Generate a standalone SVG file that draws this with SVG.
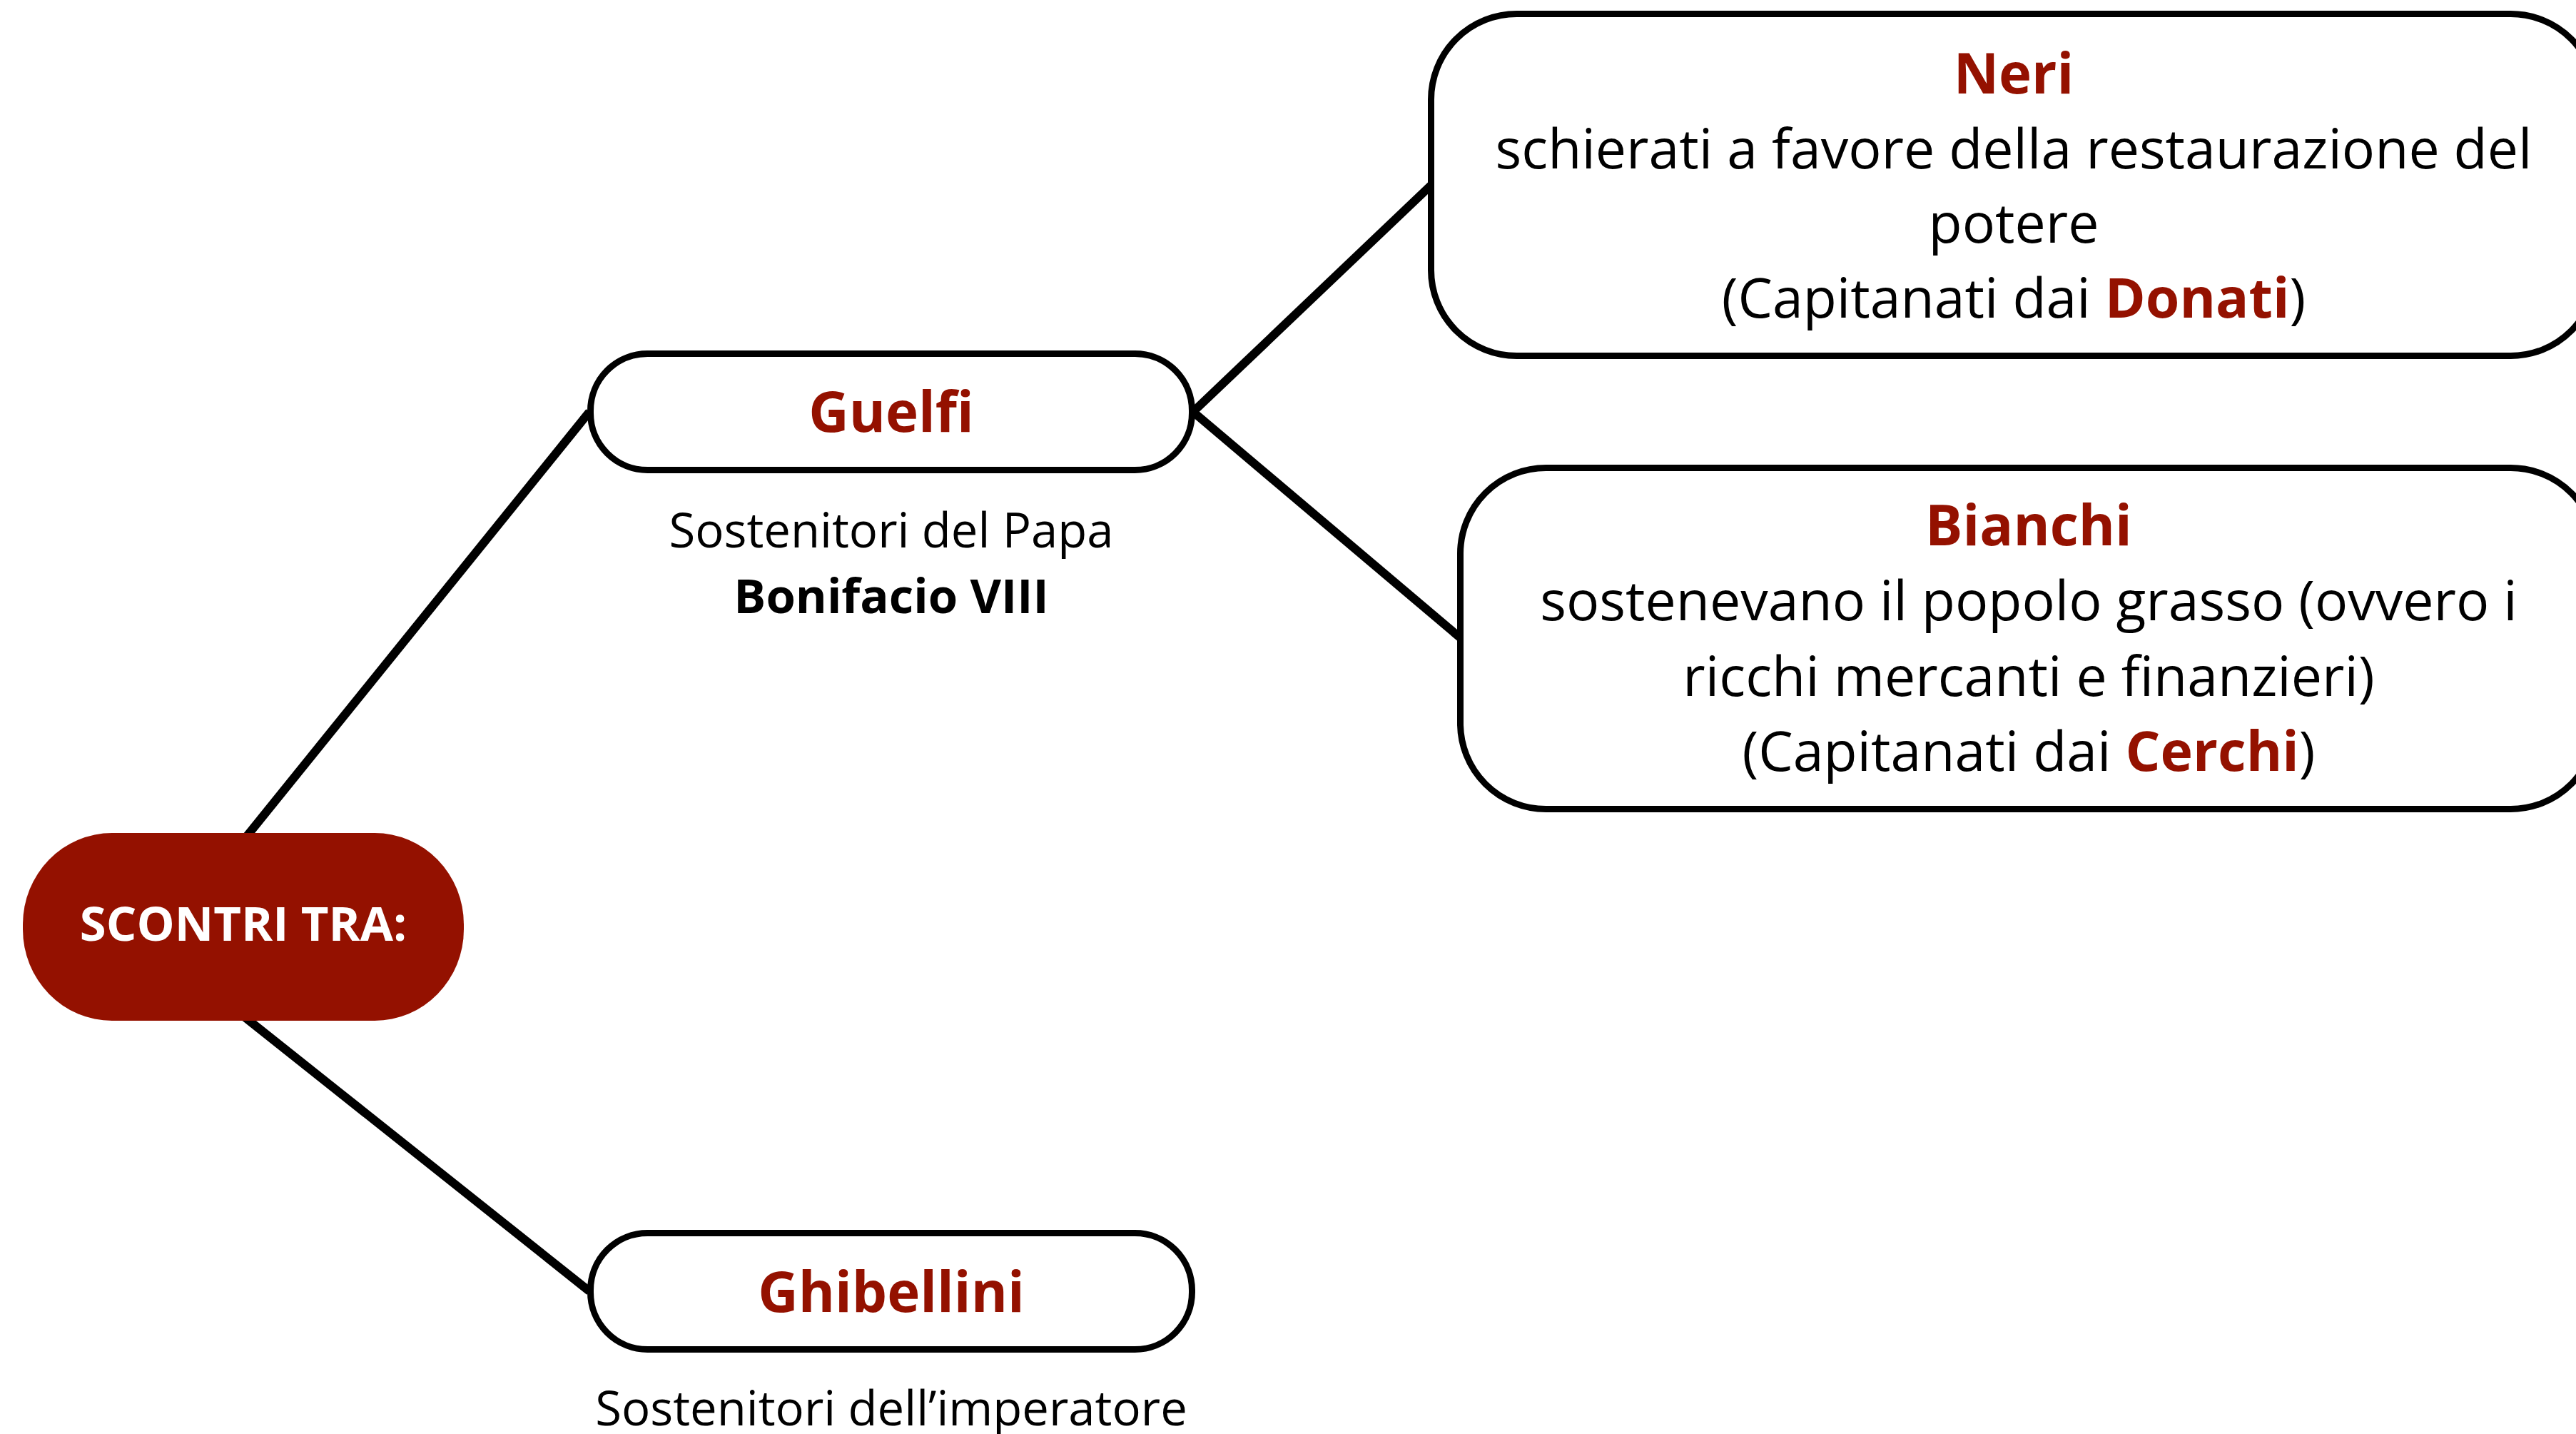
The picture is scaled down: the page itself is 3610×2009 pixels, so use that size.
<svg xmlns="http://www.w3.org/2000/svg" width="3610" height="2009" viewBox="0 0 3610 2009">
<style>
text{font-family:"Open Sans","Liberation Sans",sans-serif;text-anchor:middle;fill:#000}
.box{fill:#fff;stroke:#000;stroke-width:9}
.red{fill:#941100}
.b{font-weight:700}
.t{font-size:78px;font-weight:700;fill:#941100}
.body{font-size:77px}
.sub{font-size:67px}
.conn line{stroke:#000;stroke-width:12}
</style>
<rect width="3610" height="2009" fill="#fff"/>
<g id="connectors" class="conn">
<line x1="343" y1="1175" x2="826" y2="577"/>
<line x1="343" y1="1425" x2="826" y2="1809"/>
<line x1="1672" y1="577" x2="2006" y2="259"/>
<line x1="1672" y1="577" x2="2047" y2="894"/>
</g>
<g id="scontri">
<rect x="32" y="1167" width="618" height="263" rx="125" ry="128" fill="#941100"/>
<text x="341" y="1318" class="b" style="font-size:67px;fill:#fff">SCONTRI TRA:</text>
</g>
<g id="guelfi">
<rect class="box" x="827.5" y="495.5" width="843" height="163" rx="80"/>
<text x="1249" y="605" class="t">Guelfi</text>
<text x="1249" y="767" class="sub">Sostenitori del Papa</text>
<text x="1249" y="859" class="sub b">Bonifacio VIII</text>
</g>
<g id="ghibellini">
<rect class="box" x="827.5" y="1727.5" width="843" height="163" rx="80"/>
<text x="1249" y="1838" class="t">Ghibellini</text>
<text x="1249" y="1997" class="sub">Sostenitori dell’imperatore</text>
</g>
<g id="neri">
<rect class="box" x="2005.5" y="19.5" width="1633" height="479" rx="120"/>
<text x="2822" y="131" class="t">Neri</text>
<text x="2822" y="236" class="body">schierati a favore della restaurazione del</text>
<text x="2822" y="340" class="body">potere</text>
<text x="2822" y="445" class="body">(Capitanati dai <tspan class="b red">Donati</tspan>)</text>
</g>
<g id="bianchi">
<rect class="box" x="2046.5" y="655.5" width="1592" height="478" rx="120"/>
<text x="2843" y="764" class="t">Bianchi</text>
<text x="2843" y="869" class="body">sostenevano il popolo grasso (ovvero i</text>
<text x="2843" y="975" class="body">ricchi mercanti e finanzieri)</text>
<text x="2843" y="1080" class="body">(Capitanati dai <tspan class="b red">Cerchi</tspan>)</text>
</g>
</svg>
